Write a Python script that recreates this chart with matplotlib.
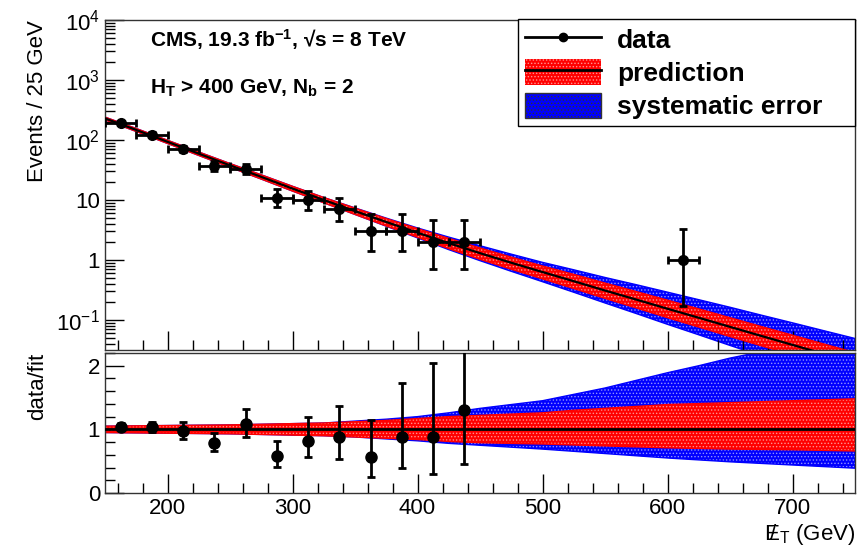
import numpy as np
import matplotlib
matplotlib.use("Agg")
import matplotlib.pyplot as plt
from matplotlib.patches import Patch
from matplotlib.lines import Line2D
from matplotlib.ticker import FixedLocator, FixedFormatter, MultipleLocator

plt.rcParams['font.family'] = ['Liberation Sans', 'DejaVu Sans']
plt.rcParams['mathtext.fontset'] = 'custom'
plt.rcParams['mathtext.rm'] = 'Liberation Sans'
plt.rcParams['mathtext.it'] = 'Liberation Sans:italic'
plt.rcParams['mathtext.bf'] = 'Liberation Sans:bold'
plt.rcParams['hatch.linewidth'] = 0.6

# data points (bin centres, 25 GeV bins)
met = [162.5, 187.5, 212.5, 237.5, 262.5, 287.5, 312.5, 337.5, 362.5, 387.5, 412.5, 437.5, 612.5]
counts = [190, 122, 71, 37, 33, 11, 10, 7, 3, 3, 2, 2, 1]
err_lo = [13.8, 11.0, 8.4, 6.1, 5.7, 3.3, 3.1, 2.6, 1.6, 1.6, 1.3, 1.3, 0.83]
err_hi = [14.8, 12.1, 9.5, 7.1, 6.8, 4.4, 4.3, 3.8, 2.9, 2.9, 2.6, 2.6, 2.3]

# ratio panel (data/fit), point at 612.5 is off scale
ratio_x = [162.5, 187.5, 212.5, 237.5, 262.5, 287.5, 312.5, 337.5, 362.5, 387.5, 412.5, 437.5]
ratio = [1.04, 1.04, 0.97, 0.79, 1.09, 0.58, 0.82, 0.88, 0.57, 0.88, 0.88, 1.31]
ratio_lo = [0.99, 0.96, 0.85, 0.66, 0.88, 0.41, 0.57, 0.54, 0.25, 0.39, 0.30, 0.46]
ratio_hi = [1.10, 1.12, 1.12, 0.94, 1.32, 0.82, 1.20, 1.37, 1.15, 1.73, 2.05, 2.90]

# fit prediction and relative bands
fit_x = [150, 175, 200, 225, 250, 275, 300, 325, 350, 375, 400, 425, 450,
         475, 500, 525, 550, 575, 600, 625, 650, 675, 700, 725, 750]
fit_y = [229, 147, 93.3, 59.2, 37.8, 24.3, 15.5, 10.0, 6.53, 4.30, 2.85, 1.91, 1.30,
         0.90, 0.63, 0.443, 0.310, 0.219, 0.154, 0.109, 0.0769, 0.0543, 0.0385, 0.0272, 0.0193]
red_hi = [1.05, 1.055, 1.06, 1.065, 1.07, 1.08, 1.09, 1.10, 1.12, 1.14, 1.17, 1.20, 1.22,
          1.24, 1.26, 1.30, 1.33, 1.36, 1.39, 1.405, 1.42, 1.435, 1.45, 1.465, 1.48]
red_lo = [0.95, 0.945, 0.94, 0.935, 0.93, 0.92, 0.91, 0.90, 0.88, 0.86, 0.84, 0.81, 0.79,
          0.78, 0.77, 0.755, 0.74, 0.725, 0.71, 0.70, 0.69, 0.685, 0.68, 0.67, 0.66]
blue_hi = [1.05, 1.055, 1.06, 1.065, 1.07, 1.08, 1.09, 1.10, 1.13, 1.16, 1.20, 1.26, 1.33,
           1.39, 1.45, 1.55, 1.65, 1.77, 1.89, 2.0, 2.12, 2.22, 2.33, 2.44, 2.55]
blue_lo = [0.95, 0.945, 0.94, 0.935, 0.93, 0.92, 0.91, 0.90, 0.88, 0.85, 0.82, 0.78, 0.75,
           0.72, 0.69, 0.655, 0.62, 0.585, 0.55, 0.52, 0.49, 0.465, 0.44, 0.415, 0.39]

fx = np.array(fit_x)
fy = np.array(fit_y)
RED = '#ff0000'
BLUE = '#0000ff'

fig = plt.figure(figsize=(8.67, 5.48), dpi=100)
ax1 = fig.add_axes([105/867, 1-350/548, 750/867, 330/548])
ax2 = fig.add_axes([105/867, 1-493/548, 750/867, 140/548])


def draw_bands(ax, scale):
    ax.fill_between(fx, scale*np.array(blue_lo), scale*np.array(blue_hi), facecolor=BLUE,
                    edgecolor='#9090ff', hatch='.....', linewidth=0, zorder=1)
    ax.plot(fx, scale*np.array(blue_lo), color=BLUE, lw=1, zorder=1)
    ax.plot(fx, scale*np.array(blue_hi), color=BLUE, lw=1, zorder=1)
    ax.fill_between(fx, scale*np.array(red_lo), scale*np.array(red_hi), facecolor=RED,
                    edgecolor='#ff9090', hatch='.....', linewidth=0, zorder=2)
    ax.plot(fx, scale*np.array(red_lo), color=RED, lw=1, zorder=2)
    ax.plot(fx, scale*np.array(red_hi), color=RED, lw=1, zorder=2)


# top panel
draw_bands(ax1, fy)
ax1.plot(fx, fy, color='black', lw=1.6, zorder=3)
ax1.errorbar(met, counts, yerr=[err_lo, err_hi], xerr=12.5, fmt='o', color='black',
             ms=7, elinewidth=2, capsize=3, capthick=2, zorder=4)
ax1.set_yscale('log')
ax1.set_ylim(10**-1.5, 1e4)
ax1.set_xlim(150, 750)
ax1.yaxis.set_major_locator(FixedLocator([0.1, 1, 10, 100, 1000, 10000]))
ax1.yaxis.set_major_formatter(FixedFormatter(['$10^{-1}$', '1', '10', '$10^{2}$', '$10^{3}$', '$10^{4}$']))
ax1.yaxis.set_minor_locator(FixedLocator([m*10.0**e for e in range(-2, 4) for m in range(2, 10)]))
ax1.xaxis.set_major_locator(MultipleLocator(100))
ax1.xaxis.set_minor_locator(MultipleLocator(20))
ax1.tick_params(axis='x', labelbottom=False)
ax1.set_ylabel('Events / 25 GeV', fontsize=16, loc='top')
ax1.yaxis.set_label_coords(-0.076, 1)

ax1.text(150/867, 1-40/548, 'CMS, 19.3 fb$^{\\mathbf{-1}}$, \u221As = 8 TeV',
         transform=fig.transFigure, fontsize=15, fontweight='bold', va='center')
ax1.text(150/867, 1-88/548, r'H$_{\mathbf{T}}$ > 400 GeV, N$_{\mathbf{b}}$ = 2',
         transform=fig.transFigure, fontsize=15, fontweight='bold', va='center')

h_data = Line2D([], [], color='black', marker='o', ms=6, lw=2)
h_pred = (Patch(facecolor=RED, edgecolor='#ff9090', hatch='.....', lw=0),
          Line2D([], [], color='black', lw=2))
h_sys = Patch(facecolor=BLUE, edgecolor='#333333', hatch='.....', lw=1)
leg = ax1.legend([h_data, h_pred, h_sys], ['data', 'prediction', 'systematic error'],
                 loc='upper left', bbox_to_anchor=(518/867, 1-20/548, 337/867, 0.001),
                 bbox_transform=fig.transFigure, mode='expand', borderaxespad=0,
                 prop={'weight': 'bold', 'size': 19}, fancybox=False, framealpha=1,
                 edgecolor='black', handlelength=2.9, handleheight=1.1,
                 labelspacing=0.25, borderpad=0.25, handletextpad=0.6)
leg.get_frame().set_linewidth(1)

# ratio panel
draw_bands(ax2, 1.0)
ax2.axhline(1, color='black', lw=2, zorder=3)
r = np.array(ratio)
ax2.errorbar(ratio_x, ratio, yerr=[r - np.array(ratio_lo), np.array(ratio_hi) - r], fmt='o',
             color='black', ms=8, elinewidth=2, capsize=3, capthick=2, zorder=4)
ax2.set_xlim(150, 750)
ax2.set_ylim(0, 2.2)
ax2.yaxis.set_major_locator(FixedLocator([0, 1, 2]))
ax2.yaxis.set_minor_locator(MultipleLocator(0.2))
ax2.xaxis.set_major_locator(MultipleLocator(100))
ax2.xaxis.set_minor_locator(MultipleLocator(20))
ax2.set_ylabel('data/fit', fontsize=16, loc='top')
ax2.yaxis.set_label_coords(-0.076, 1)
ax2.set_xlabel(r'$\mathrm{E}\!\!\!/\,{}_{\mathrm{T}}$ (GeV)', fontsize=16, loc='right', labelpad=2)

for ax in (ax1, ax2):
    ax.tick_params(which='both', direction='in', top=False, right=False, labelsize=16)
    ax.tick_params(which='major', length=14, width=1)
    ax.tick_params(which='minor', length=7, width=1)
    for s in ax.spines.values():
        s.set_linewidth(1)
        s.set_color('#333333')

fig.savefig('out.png', dpi=100)
